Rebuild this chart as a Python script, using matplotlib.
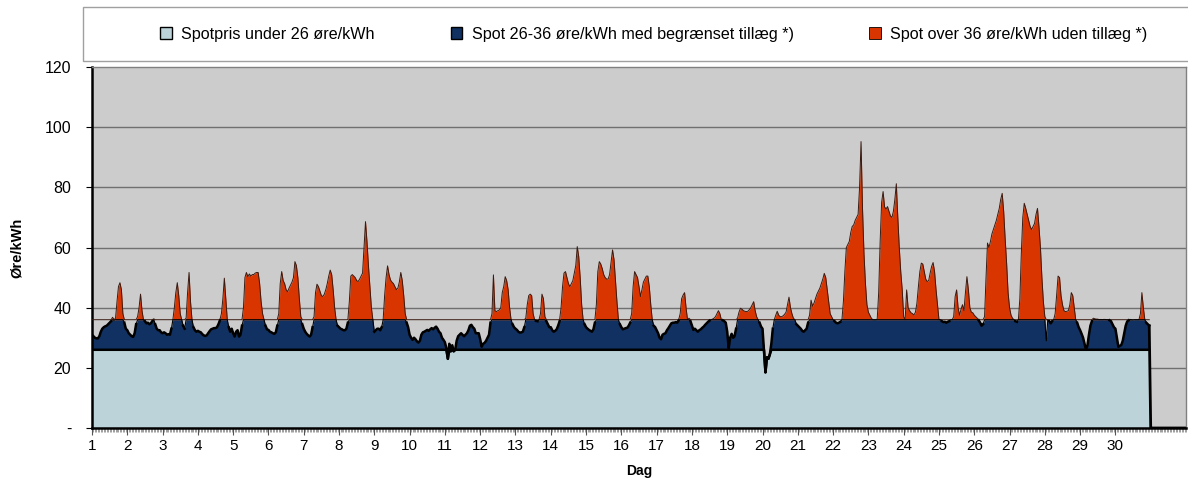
import numpy as np
import matplotlib
matplotlib.use("Agg")
import matplotlib.pyplot as plt
from matplotlib.patches import Patch, Rectangle

plt.rcParams['font.family'] = ['Liberation Sans', 'DejaVu Sans']

# timepriser (øre/kWh), en liste pr. dag
d01 = [31, 30.5, 30, 29.8, 29.8, 30.5, 32, 33, 33.5, 33.8, 34, 34.5, 35, 35.5, 36.8, 35.8, 36.5, 42, 47, 48.3, 46, 38, 35, 33]
d02 = [32.5, 31.5, 31, 30.5, 30.3, 31.5, 34.5, 37, 40, 44.5, 39, 36, 35.5, 34.8, 35, 34.5, 34.8, 35.5, 36.3, 34.5, 33, 32.5, 32.5, 31.8]
d03 = [31.5, 31.8, 31.5, 31, 31.2, 31, 33, 36, 40, 45, 48.3, 44, 38, 36, 34, 33, 36.5, 45, 51.7, 42, 36, 33.5, 32.5, 32]
d04 = [32.3, 32, 31.8, 31.2, 30.8, 30.6, 30.8, 31.5, 32.2, 32.8, 33, 33.2, 33.2, 33.5, 34.5, 35.8, 38, 43, 49.8, 43, 36, 33.5, 32, 33]
d05 = [31.5, 30.4, 32, 32.5, 30.4, 31, 34, 40, 50, 51.7, 50.3, 51.2, 50.5, 51, 51, 51.5, 51.7, 51.7, 48, 42, 38, 36, 34, 32.8]
d06 = [32.6, 32, 31.8, 31.5, 31.3, 31.8, 34, 38, 48, 52, 49, 48, 46, 45.3, 46.5, 47.5, 48.5, 50, 55.3, 54, 50, 43, 37, 34.5]
d07 = [33, 32, 31.3, 30.8, 30.4, 31, 33.5, 37, 45, 47.8, 47, 45.5, 44, 43.7, 44.5, 46, 48, 50.5, 52.5, 51, 46, 40, 36, 34]
d08 = [33.5, 33, 32.8, 32.5, 32.5, 33, 35, 42, 50.5, 51, 50.5, 50, 49, 48.7, 49.5, 50.5, 51.5, 60, 68.6, 62, 54, 47, 40, 36]
d09 = [32, 32.5, 33, 33, 32.5, 33.5, 36, 44, 50, 53.9, 51, 49.2, 48.5, 48, 47, 46, 46.5, 48.5, 51.7, 49, 44, 38, 35, 33.5]
d10 = [31, 30, 29.3, 30, 29.5, 28.8, 28.4, 29, 31, 31.8, 32, 32.3, 32.6, 32.3, 32.8, 33.2, 32.8, 33.3, 33.7, 33, 32, 31.5, 30, 29.3]
d11 = [28.5, 26.5, 23, 28, 25.5, 27.5, 25.5, 26, 29, 30.5, 31, 31.5, 31, 30.5, 31, 31.5, 32.5, 34, 34.3, 33.5, 33, 31.5, 31.5, 31.5]
d12 = [29.5, 27, 28, 28.3, 29, 30, 31, 35, 38, 50.9, 39, 38.7, 39, 39.2, 40, 45, 47, 50.3, 49, 46, 40, 36, 34.5, 33.5]
d13 = [33, 32.6, 32, 31.7, 31.8, 32, 33.5, 36.5, 41, 44, 44.5, 44, 38, 36, 35.6, 35.5, 36, 38, 44.5, 43, 37, 35.5, 34.5, 33.5]
d14 = [33.5, 32.5, 32, 32.3, 32.8, 34, 35.5, 40, 47, 51.5, 52, 50, 48, 47, 48, 49, 51.5, 54, 60.3, 57, 50, 41, 36, 34.5]
d15 = [33.5, 33, 32.6, 32.3, 32, 32.8, 35, 41, 52, 55.3, 54.5, 53, 51, 50, 49.5, 49.5, 51, 55, 59.2, 56, 49, 42, 36, 34.5]
d16 = [33.5, 32.8, 33, 33.2, 33.3, 34, 35, 38, 47, 52, 51, 50, 47, 43.7, 46, 48.5, 49.5, 50.5, 50.5, 47, 41, 36, 34, 33.5]
d17 = [32.5, 31.5, 30, 29.5, 31, 31.3, 31.5, 32.5, 33.2, 34, 34.8, 35, 35, 35.2, 35, 35.8, 38, 43, 44.2, 45, 40, 36, 36.5, 35.5]
d18 = [34, 32.6, 33, 32.5, 32, 32.5, 32.8, 33.3, 33.7, 34.3, 34.8, 35.3, 35.7, 36, 36.2, 36.5, 37, 38, 39, 38, 36, 35.8, 35.5, 35]
d19 = [32, 26.5, 30, 31.3, 30, 30.5, 33, 36.5, 38.5, 39.8, 39.5, 39, 38.8, 38.7, 38.8, 39.3, 40, 41, 42, 39, 37, 36, 35, 33.7]
d20 = [33, 26, 18.5, 23.5, 23, 24.5, 28, 33, 36, 37.5, 38.8, 37.5, 37, 37, 37.3, 37.8, 38.5, 41, 43.5, 40, 38, 36.5, 36, 34.5]
d21 = [34, 33.5, 33, 32.3, 32, 32.5, 33, 35, 37.5, 42.5, 40.5, 41.5, 43, 44.5, 45.5, 46.5, 48, 49.5, 51.4, 50, 46, 42, 38, 37]
d22 = [36, 35.5, 35, 34.8, 35, 35.3, 36, 42, 52, 60, 61, 62, 65, 67, 67.5, 69, 70, 71, 80, 95.2, 73, 58, 48, 41]
d23 = [38.5, 37.5, 36.5, 36, 36, 36, 36.2, 45, 62, 75, 78.6, 73.5, 72.8, 73.6, 72, 70.5, 70, 72, 76, 81.2, 70, 60, 52, 46]
d24 = [37, 36, 45.9, 40, 39, 38.3, 38, 37.6, 38.5, 41.5, 47, 52, 54.8, 54.5, 52, 49.5, 48.7, 49, 51.5, 53.7, 55, 52, 46, 41]
d25 = [36, 36, 35.5, 35.2, 35.3, 35, 35.3, 35.5, 36, 36, 37, 43.7, 45.9, 40, 37.5, 39.5, 41, 39, 45, 50.3, 46, 40, 38.5, 38.3]
d26 = [37.5, 37, 36.5, 35.8, 35, 34, 34.5, 37, 50, 61.5, 60, 62, 64.5, 66, 67.5, 69, 71, 73, 76, 78, 72, 63, 54.8, 45]
d27 = [40, 37.5, 36.5, 36, 35.5, 35.3, 36, 43, 58, 70, 74.7, 73, 71, 69, 67, 66, 67, 68, 71, 73, 67, 60, 50, 42]
d28 = [37, 29, 36, 35.5, 34.8, 35.5, 36, 38, 44, 50.5, 50, 44, 41, 39, 38.7, 38.8, 39, 41, 45, 44, 40, 36, 35, 33.5]
d29 = [32.5, 31.3, 30, 28, 26, 27.5, 31, 34, 35.5, 36.5, 36.3, 36.2, 36.2, 36, 36.1, 36, 36.1, 36.1, 36, 36, 35.8, 35.5, 34.5, 33.5]
d30 = [33, 30, 27, 27.3, 27.6, 29, 31.5, 34, 35.4, 35.8, 36.1, 36, 35.9, 36, 36, 36, 36, 38, 45, 40, 36, 35, 34.5, 34]
d31 = [0] * 24

days = list(range(1, 31))
grænse_lav = 26
grænse_høj = 36

spot = np.array(d01 + d02 + d03 + d04 + d05 + d06 + d07 + d08 + d09 + d10 +
                d11 + d12 + d13 + d14 + d15 + d16 + d17 + d18 + d19 + d20 +
                d21 + d22 + d23 + d24 + d25 + d26 + d27 + d28 + d29 + d30 + d31, dtype=float)
x = np.arange(len(spot))

lav = np.minimum(spot, grænse_lav)
mellem = np.minimum(spot, grænse_høj)
høj = np.maximum(spot, grænse_høj)

c_lav = '#BCD4D9'
c_mid = '#103161'
c_hoej = '#D93500'

fig = plt.figure(figsize=(11.88, 4.83), dpi=100)
ax = fig.add_axes([92/1188, 1-428/483, (1186-92)/1188, (428-67)/483])
ax.set_facecolor('#CCCCCC')

for v in [20, 40, 60, 80, 100]:
    ax.axhline(v, color='#707070', lw=1, zorder=1)

n = 720
ax.fill_between(x[:n], 0, lav[:n], color=c_lav, zorder=2, lw=0)
ax.fill_between(x[:n], lav[:n], mellem[:n], color=c_mid, zorder=2, lw=0)
ax.fill_between(x[:n], grænse_høj, høj[:n], color=c_hoej, zorder=2, lw=0)
ax.plot(x[:n], høj[:n], color='#3a1a10', lw=0.7, zorder=3)
ax.plot(x[:n], lav[:n], color='black', lw=1.8, zorder=4)
ax.plot(x[:n], mellem[:n], color='black', lw=0.8, zorder=4)
ax.plot(x[:n], np.where(spot[:n] < grænse_høj, spot[:n], np.nan), color='black', lw=1.8, zorder=4)
ax.plot(x[n - 1:], spot[n - 1:], color='black', lw=2, zorder=4)

ax.set_xlim(0, 744)
ax.set_ylim(0, 120)
ax.set_yticks([0, 20, 40, 60, 80, 100, 120])
ax.set_yticklabels(['-', '20', '40', '60', '80', '100', '120'], fontsize=11.5)
ax.set_xticks([(d - 1) * 24 for d in days])
ax.set_xticklabels([str(d) for d in days], fontsize=11)
ax.set_xticks(np.arange(0, 745, 1), minor=True)
ax.tick_params(axis='x', which='major', length=5, width=0.8, color='#555555', pad=3)
ax.tick_params(axis='x', which='minor', length=3, width=0.5, color='#777777')
ax.tick_params(axis='y', length=4, width=0.8, pad=11)

for s in ['left', 'bottom']:
    ax.spines[s].set_color('black')
    ax.spines[s].set_linewidth(1.8)
for s in ['top', 'right']:
    ax.spines[s].set_color('#808080')
    ax.spines[s].set_linewidth(1)

ax.set_xlabel('Dag', fontsize=10, fontweight='bold', labelpad=8)
ax.set_ylabel('Øre/kWh', fontsize=10.5, fontweight='bold', labelpad=15)

# legende i ramme øverst
fig.patches.append(Rectangle((83/1188, 1-61/483), 1.0, 54/483, transform=fig.transFigure,
                             facecolor='white', edgecolor='#A0A0A0', lw=1, zorder=0))
handles = [Patch(facecolor=c_lav, edgecolor='black', lw=1),
           Patch(facecolor=c_mid, edgecolor='black', lw=1),
           Patch(facecolor=c_hoej, edgecolor='black', lw=0.6)]
labels = ['Spotpris under 26 øre/kWh',
          'Spot 26-36 øre/kWh med begrænset tillæg *)',
          'Spot over 36 øre/kWh uden tillæg *)']
fig.legend(handles, labels, loc='center', bbox_to_anchor=(654/1188, 1-34/483), ncol=3,
           frameon=False, fontsize=11.6, handlelength=0.7, handleheight=0.7,
           handletextpad=0.6, columnspacing=4.7)

fig.savefig('out.png', dpi=100)
